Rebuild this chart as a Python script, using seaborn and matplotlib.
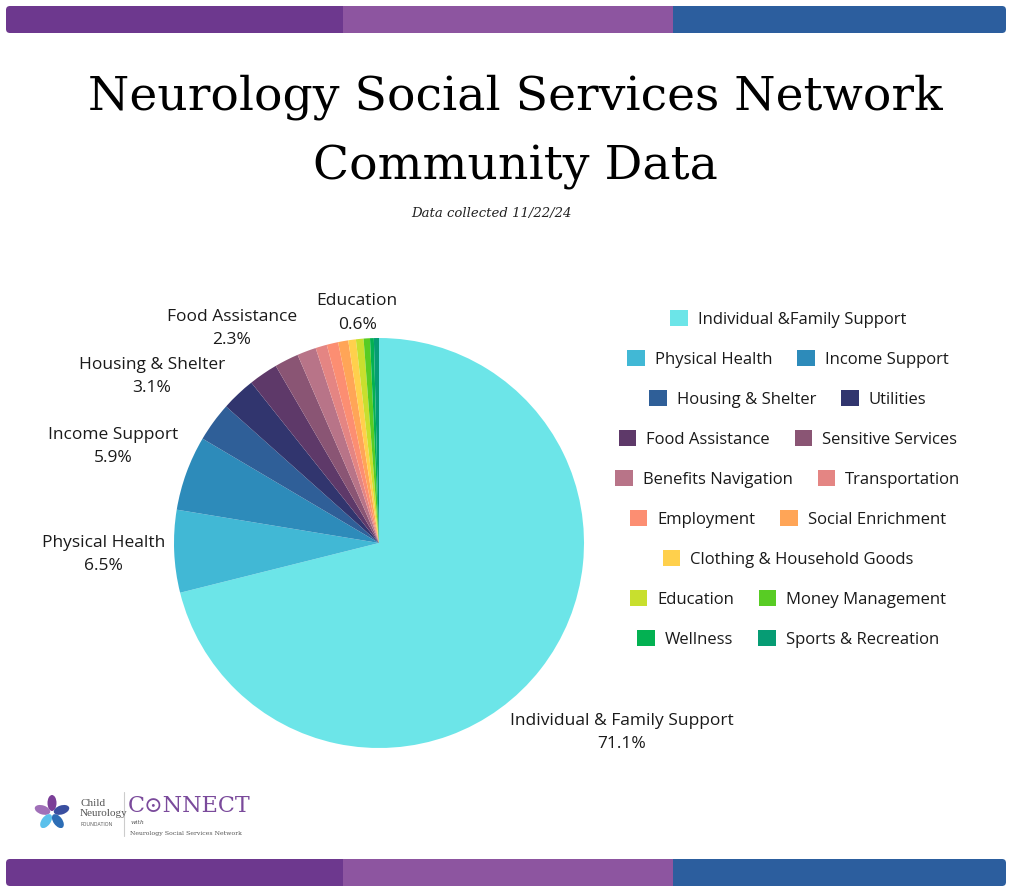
import numpy as np
import matplotlib
matplotlib.use("Agg")
import matplotlib.pyplot as plt
import seaborn as sns
from matplotlib.patches import Patch, FancyBboxPatch, Rectangle, Ellipse

# ---------------- data ----------------
categories = ["Individual & Family Support", "Physical Health", "Income Support",
              "Housing & Shelter", "Utilities", "Food Assistance", "Sensitive Services",
              "Benefits Navigation", "Transportation", "Employment", "Social Enrichment",
              "Clothing & Household Goods", "Education", "Money Management",
              "Wellness", "Sports & Recreation"]
legend_names = ["Individual &Family Support"] + categories[1:]
shares = [71.1, 6.5, 5.9, 3.1, 2.7, 2.3, 1.9, 1.5, 0.9, 0.9, 0.8, 0.6, 0.6, 0.5, 0.3, 0.4]
colors = ["#6ce5e8", "#41b8d5", "#2d8bba", "#2f5f98", "#31356e", "#5e3969",
          "#8a5574", "#b87488", "#e48583", "#fc8e72", "#ffa557", "#ffd04c",
          "#c8df2e", "#58cc24", "#03b152", "#069c74"]

# labelled slices and how far out their text sits (in radii)
label_dist = {"Individual & Family Support": 1.50, "Physical Health": 1.343,
              "Income Support": 1.378, "Housing & Shelter": 1.373,
              "Food Assistance": 1.27, "Education": 1.127}

# legend rows (indices into categories)
legend_rows = [[0], [1, 2], [3, 4], [5, 6], [7, 8], [9, 10], [11], [12, 13], [14, 15]]

# ---------------- style ----------------
sns.set_theme(style="white")
plt.rcParams["font.family"] = ["Open Sans", "DejaVu Sans"]
W, H = 1012, 894
fig = plt.figure(figsize=(W / 100, H / 100), dpi=100)
fig.patch.set_facecolor("white")

# background axes in pixel units for decoration
bg = fig.add_axes([0, 0, 1, 1])
bg.set_xlim(0, W)
bg.set_ylim(H, 0)
bg.axis("off")

# top and bottom colour bands
band_cols = ["#6d388e", "#8d55a0", "#2c5e9e"]
for y0, y1 in [(6, 33), (859, 886)]:
    bg.add_patch(FancyBboxPatch((6, y0), 344, y1 - y0, boxstyle="round,pad=0,rounding_size=4",
                                fc=band_cols[0], ec="none"))
    bg.add_patch(FancyBboxPatch((666, y0), 340, y1 - y0, boxstyle="round,pad=0,rounding_size=4",
                                fc=band_cols[2], ec="none"))
    bg.add_patch(Rectangle((343, y0), 330, y1 - y0, fc=band_cols[1], ec="none"))

# titles
bg.text(515, 97, "Neurology Social Services Network", ha="center", va="center",
        fontsize=34, family="DejaVu Serif", color="black")
bg.text(515, 167, "Community Data", ha="center", va="center",
        fontsize=34, family="DejaVu Serif", color="black")
bg.text(491, 214, "Data collected 11/22/24", ha="center", va="center",
        fontsize=9.5, family="DejaVu Serif", style="italic", color="#222222")

# logo (text + simple hands)
hand_cols = ["#7b3f98", "#a070b8", "#5bc0eb", "#2d6db5", "#3a4fa0"]
for k, c in enumerate(hand_cols):
    ang = 90 + k * 72
    hx = 52 + 10 * np.cos(np.deg2rad(ang))
    hy = 813 - 10 * np.sin(np.deg2rad(ang))
    bg.add_patch(Ellipse((hx, hy), 16, 9, angle=-ang, fc=c, ec="none"))
bg.text(81, 803, "Child", fontsize=8, family="Liberation Serif", color="#555555", va="center")
bg.text(80, 814, "Neurology", fontsize=8, family="Liberation Serif", color="#555555", va="center")
bg.text(81, 825, "FOUNDATION", fontsize=3.6, color="#555555", va="center")
bg.plot([124, 124], [792, 836], color="#cccccc", lw=0.8)
bg.text(128, 806, "C\u2299NNECT", fontsize=16, family="DejaVu Serif", color="#7a4a9b", va="center")
bg.text(131, 823, "with", fontsize=4.5, family="DejaVu Serif", style="italic", color="#555555", va="center")
bg.text(130, 833, "Neurology Social Services Network", fontsize=4.5, family="DejaVu Serif",
        color="#555555", va="center")

# ---------------- pie ----------------
cx, cy, R = 379, 543, 205
ax = fig.add_axes([(cx - R) / W, (H - cy - R) / H, 2 * R / W, 2 * R / H])
wedges, _ = ax.pie(shares, colors=colors, startangle=90, counterclock=False,
                   radius=1, wedgeprops=dict(linewidth=0))
ax.set_xlim(-1, 1)
ax.set_ylim(-1, 1)
ax.axis("off")

for w, name, share in zip(wedges, categories, shares):
    if name not in label_dist:
        continue
    mid = np.deg2rad((w.theta1 + w.theta2) / 2)
    d = label_dist[name]
    ax.text(d * np.cos(mid), d * np.sin(mid), f"{name}\n{share:.1f}%",
            ha="center", va="center", fontsize=12.5, linespacing=1.6,
            color="#1a1a1a", clip_on=False)

# ---------------- legend ----------------
for r, row in enumerate(legend_rows):
    y = 319 + 40 * r
    handles = [Patch(facecolor=colors[i], edgecolor="none") for i in row]
    names = [legend_names[i] for i in row]
    fig.legend(handles, names, loc="center", bbox_to_anchor=(788 / W, 1 - y / H),
               ncol=len(row), frameon=False, fontsize=12, handlelength=1.05,
               handleheight=1.05, handletextpad=0.6, columnspacing=1.5,
               borderpad=0, labelcolor="#1a1a1a")

fig.savefig("out.png", dpi=100)
